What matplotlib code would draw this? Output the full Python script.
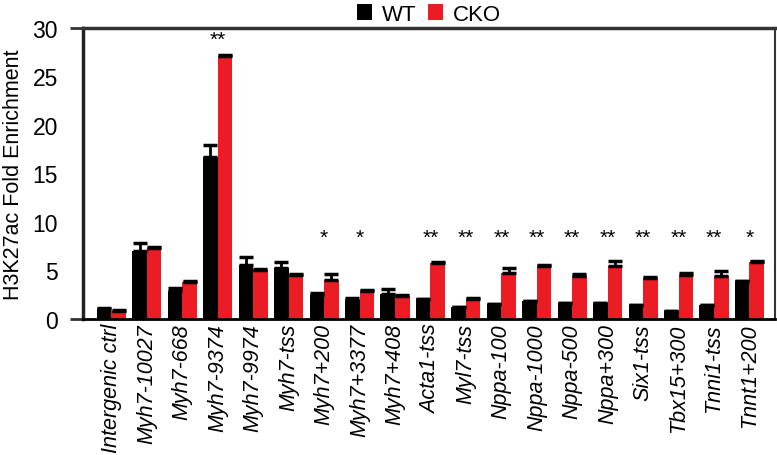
import numpy as np
import matplotlib.pyplot as plt

plt.rcParams['font.family'] = ['Liberation Sans', 'DejaVu Sans']

regions = ["Intergenic ctrl", "Myh7-10027", "Myh7-668", "Myh7-9374", "Myh7-9974",
           "Myh7-tss", "Myh7+200", "Myh7+3377", "Myh7+408", "Acta1-tss", "Myl7-tss",
           "Nppa-100", "Nppa-1000", "Nppa-500", "Nppa+300", "Six1-tss", "Tbx15+300",
           "Tnni1-tss", "Tnnt1+200"]
wt = [1.05, 7.0, 2.9, 16.7, 5.6, 5.3, 2.5, 2.0, 2.6, 2.1, 1.25,
      1.55, 1.85, 1.7, 1.7, 1.4, 0.85, 1.4, 3.9]
wt_err = [0.05, 0.8, 0.3, 1.2, 0.8, 0.6, 0.2, 0.2, 0.5, 0.0, 0.0,
          0.0, 0.0, 0.0, 0.0, 0.0, 0.0, 0.0, 0.0]
cko = [0.85, 7.3, 3.8, 27.1, 5.1, 4.5, 4.0, 2.9, 2.4, 5.75, 2.1,
       4.75, 5.5, 4.4, 5.5, 4.2, 4.5, 4.4, 5.9]
cko_err = [0.1, 0.1, 0.1, 0.1, 0.1, 0.1, 0.6, 0.1, 0.1, 0.1, 0.1,
           0.5, 0.1, 0.2, 0.5, 0.1, 0.2, 0.5, 0.1]
stars = ["", "", "", "**", "", "", "*", "*", "", "**", "**",
         "**", "**", "**", "**", "**", "**", "**", "*"]

fig = plt.figure(figsize=(7.77, 4.56), dpi=100)
ax = fig.add_axes([83 / 777, 1 - 320 / 456, 692 / 777, 291 / 456])

x = np.arange(len(regions))
w = 0.41
ekw = dict(ecolor="black", elinewidth=2, capsize=5, capthick=2.5)
ax.bar(x - w / 2, wt, w, color="black", label="WT",
       yerr=[np.zeros(len(wt)), wt_err], error_kw=ekw)
ax.bar(x + w / 2, cko, w, color="#ec1c24", label="CKO",
       yerr=[np.zeros(len(cko)), cko_err], error_kw=ekw)

# significance marks
for i, s in enumerate(stars):
    if not s:
        continue
    y = 28.8 if i == 3 else 8.4
    ax.text(i, y, s, ha="center", va="center", fontsize=15)

ax.set_xlim(-0.8, 18.72)
ax.set_ylim(0, 30)
ax.set_xticks(x)
ax.set_xticklabels(regions, rotation=90, style="italic", fontsize=15.5)
ax.tick_params(axis="x", length=0, pad=3)

ax.set_yticks([0, 30])
ax.set_yticks([5, 10, 15, 20, 25], minor=True)
ax.set_yticklabels(["0", "30"], fontsize=16.5)
ax.set_yticklabels(["5", "10", "15", "20", "25"], minor=True, fontsize=16.5)
ax.tick_params(axis="y", which="major", length=9.5, width=2, color="#333333", pad=8.5)
ax.tick_params(axis="y", which="minor", length=0, pad=18)
ax.set_ylabel("H3K27ac Fold Enrichment", fontsize=15.5, labelpad=6)

ax.spines["left"].set_linewidth(2.5)
ax.spines["left"].set_color("#222222")
ax.spines["top"].set_linewidth(2.5)
ax.spines["top"].set_color("#333333")
ax.spines["bottom"].set_linewidth(2)
ax.spines["right"].set_linewidth(1.5)
ax.spines["right"].set_color("#333333")

ax.legend(loc="lower center", bbox_to_anchor=(0.5, 0.98), ncol=2, frameon=False,
          fontsize=16, handlelength=0.7, handleheight=0.7, handletextpad=0.45,
          columnspacing=0.5, borderaxespad=0.0)

fig.savefig("out.png", dpi=100)
